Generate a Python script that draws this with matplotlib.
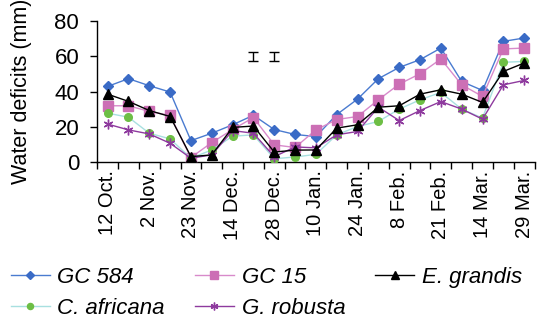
import matplotlib
matplotlib.use("Agg")
import matplotlib.pyplot as plt
import numpy as np

plt.rcParams['font.family'] = ['Liberation Sans', 'DejaVu Sans']

dates = ["12 Oct.", "", "2 Nov.", "", "23 Nov.", "", "14 Dec.", "", "28 Dec.", "",
         "10 Jan.", "", "24 Jan.", "", "8 Feb.", "", "21 Feb.", "", "14 Mar.", "", "29 Mar."]

gc584 = [42.9, 47.3, 43.3, 39.7, 12.1, 16.3, 21.1, 26.5, 18.4, 15.6, 14.4,
         26.9, 35.7, 47.3, 53.7, 58.1, 64.7, 45.7, 40.6, 68.5, 70.4]
gc15 = [31.9, 31.9, 28.7, 26.4, 2.5, 11.0, 18.4, 25.2, 9.7, 8.2, 18.2,
        24.1, 25.8, 35.3, 44.2, 50.1, 58.5, 43.8, 37.2, 64.2, 64.7]
egrandis = [38.5, 34.4, 29.2, 25.8, 3.0, 4.0, 19.6, 20.4, 5.6, 6.7, 6.8,
            19.2, 21.1, 31.1, 31.9, 38.5, 41.0, 38.5, 33.8, 51.4, 56.2]
cafricana = [27.7, 25.4, 16.3, 13.1, 2.1, 6.8, 14.6, 15.4, 1.8, 2.8, 4.3,
             15.4, 20.1, 23.0, 30.0, 35.3, 39.5, 30.0, 24.9, 56.6, 57.1]
grobusta = [21.5, 18.2, 15.9, 10.6, 2.1, 4.0, 17.8, 16.3, 3.0, 8.5, 8.0,
            15.4, 17.3, 31.1, 23.5, 29.2, 34.3, 30.0, 24.3, 43.8, 46.3]

err_idx = [7, 8]
err_val = [60, 60]
err_half = [2.5, 2.5]

x = np.arange(len(dates))

fig = plt.figure(figsize=(5.4, 3.2), dpi=100)
ax = fig.add_axes([0.18, 0.494, 0.81, 0.44])

h1, = ax.plot(x, gc584, color='#4A7BD0', lw=1, marker='D', ms=5.5, mfc='#3A6BC6', mec='#3A6BC6', label='GC 584', zorder=3)
h2, = ax.plot(x, gc15, color='#D88ACB', lw=1, marker='s', ms=6.5, mfc='#CC6FB5', mec='#CC6FB5', label='GC 15', zorder=3)
h3, = ax.plot(x, egrandis, color='black', lw=1, marker='^', ms=6.5, mfc='black', mec='black', label='E. grandis', zorder=4)
h4, = ax.plot(x, cafricana, color='#A8E0E0', lw=1, marker='o', ms=5.5, mfc='#6DBE45', mec='#6DBE45', label='C. africana', zorder=3)
h5, = ax.plot(x, grobusta, color='#8E3A9E', lw=1, marker=(6, 2, 0), ms=7, mfc='#8E3A9E', mec='#8E3A9E', mew=1, label='G. robusta', zorder=3)

ax.errorbar(err_idx, err_val, yerr=err_half, fmt='none', ecolor='black', elinewidth=1, capsize=3.5, capthick=1)

ax.set_xlim(-0.5, len(dates) - 0.5)
ax.set_ylim(0, 80)
ax.set_yticks([0, 20, 40, 60, 80])
ax.set_xticks(x[::2])
ax.set_xticklabels([d for d in dates[::2]], rotation=90)
ax.set_xticks(np.arange(-0.5, len(dates), 1), minor=True)
ax.tick_params(axis='x', which='major', length=0, pad=6, labelsize=14.5)
ax.tick_params(axis='x', which='minor', length=5, width=1, direction='out')
ax.tick_params(axis='y', length=5, width=1, labelsize=16, pad=8)
for s in ['top', 'right']:
    ax.spines[s].set_visible(False)
for s in ['left', 'bottom']:
    ax.spines[s].set_linewidth(1)

ax.set_ylabel('Water deficits (mm)', fontsize=15.5, labelpad=16)

handles = [h1, h4, h2, h5, h3]
labels = [h.get_label() for h in handles]
leg = fig.legend(handles, labels, loc='upper left', bbox_to_anchor=(0.02, 0.165), ncol=3, frameon=False,
                 prop={'style': 'italic', 'size': 16}, handlelength=1.75, handletextpad=0.35,
                 columnspacing=1.35, borderpad=0, borderaxespad=0, labelspacing=0.45, markerscale=0.8)

fig.savefig('out.png', dpi=100)
